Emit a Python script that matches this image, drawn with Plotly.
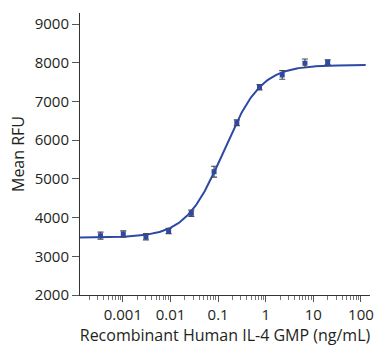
import numpy as np
import plotly.graph_objects as go

# Data (3-fold dilution series)
conc = [0.000339, 0.00102, 0.00305, 0.00914, 0.0274, 0.0823, 0.247, 0.741, 2.22, 6.67, 20.0]
rfu = [3532, 3576, 3506, 3653, 4110, 5185, 6451, 7366, 7683, 7986, 8011]
rfu_err = [90, 80, 80, 70, 80, 140, 75, 70, 110, 110, 60]

# 4PL fit parameters
fit_bottom = 3485
fit_top = 7940
fit_ec50 = 0.13
fit_hill = 1.1
fit_xmin_log = -3.9
fit_xmax_log = 2.1

x_tickvals = [0.001, 0.01, 0.1, 1, 10, 100]
x_ticktext = ["0.001", "0.01", "0.1", "1", "10", "100"]
x_minor = [m * 10.0 ** e for e in range(-4, 3) for m in range(2, 10)]
y_tickvals = [2000, 3000, 4000, 5000, 6000, 7000, 8000, 9000]

xc = np.logspace(fit_xmin_log, fit_xmax_log, 300)
yc = fit_bottom + (fit_top - fit_bottom) / (1 + (fit_ec50 / xc) ** fit_hill)

FONT = "Open Sans"
TXT = "#231f20"
BLUE = "#2c49a6"

fig = go.Figure()
fig.add_trace(go.Scatter(x=xc, y=yc, mode="lines",
                         line=dict(color=BLUE, width=2), hoverinfo="skip"))
fig.add_trace(go.Scatter(x=conc, y=rfu, mode="markers",
                         marker=dict(symbol="square", size=5, color=BLUE),
                         error_y=dict(type="data", array=rfu_err, color="#4a4a4a",
                                      thickness=1.2, width=3)))

fig.update_layout(
    width=382, height=347,
    margin=dict(l=80, r=12, t=13, b=52),
    plot_bgcolor="white", paper_bgcolor="white",
    showlegend=False,
    font=dict(family=FONT, size=15, color=TXT),
    xaxis=dict(
        type="log", range=[-3.9, 2.19], automargin=False,
        tickvals=x_tickvals, ticktext=x_ticktext,
        ticks="outside", ticklen=6, tickwidth=1, tickcolor="#555",
        minor=dict(tickvals=x_minor, ticks="outside", ticklen=4,
                   tickwidth=1, tickcolor="#777"),
        showline=True, linecolor="#333", linewidth=1,
        showgrid=False, zeroline=False,
        tickfont=dict(size=15, color=TXT),
        title=dict(text="Recombinant Human IL-4 GMP (ng/mL)",
                   font=dict(size=16, color=TXT), standoff=6),
    ),
    yaxis=dict(
        range=[2000, 9284], automargin=False,
        tickvals=y_tickvals,
        ticks="outside", ticklen=7, tickwidth=1, tickcolor="#555",
        showline=True, linecolor="#333", linewidth=1,
        showgrid=False, zeroline=False,
        tickfont=dict(size=15, color=TXT),
        title=dict(text="Mean RFU", font=dict(size=16, color=TXT), standoff=6),
    ),
)

# y-axis line continues slightly below the x-axis
fig.add_shape(type="line", xref="x domain", yref="y",
              x0=0, x1=0, ysizemode="pixel", yanchor=2000, y0=0, y1=-8,
              line=dict(color="#333", width=1))

fig.write_html("out.html")
